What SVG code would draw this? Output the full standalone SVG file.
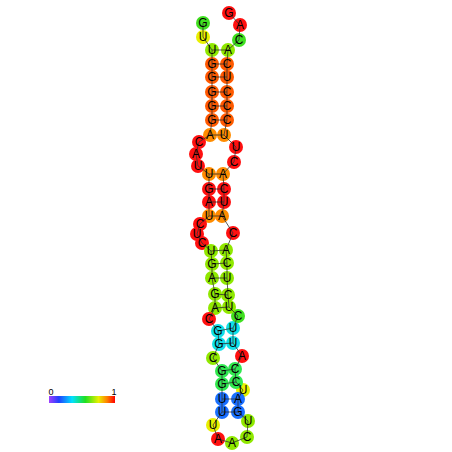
<svg xmlns="http://www.w3.org/2000/svg" width="452" height="452" viewBox="0 0 452 452">
<defs>
<linearGradient id="cb" x1="0" y1="0" x2="1" y2="0">
<stop offset="0" stop-color="#a040ff"/>
<stop offset="0.15" stop-color="#2040ff"/>
<stop offset="0.35" stop-color="#00e0ff"/>
<stop offset="0.55" stop-color="#20e020"/>
<stop offset="0.75" stop-color="#e8f000"/>
<stop offset="0.88" stop-color="#ff8000"/>
<stop offset="1" stop-color="#ff0000"/>
</linearGradient>
</defs>
<style>
.n circle{stroke:none}
.n text{font-family:"Liberation Sans",Arial,sans-serif;font-size:12px;fill:#000;text-anchor:middle;dominant-baseline:central}
#links line{stroke:#333;stroke-width:0.8}
.r{fill:#ff1010}.o{fill:#ff5a00}.oa{fill:#ff8c00}.yg{fill:#90e800}.g{fill:#40e020}.y{fill:#e8f000}.c{fill:#10e0e8}.gc{fill:#30e850}.b{fill:#1a70ff}
.lab{font-family:"Liberation Sans",Arial,sans-serif;font-size:9px;fill:#000;text-anchor:middle}
</style>
<rect width="452" height="452" fill="#fff"/>
<g id="circles">
<g class="n" id="n1"><circle class="g" cx="203" cy="23" r="7"/></g>
<g class="n" id="n2"><circle class="y" cx="203" cy="37" r="7"/></g>
<g class="n" id="n3"><circle class="yg" cx="212" cy="50" r="7"/></g>
<g class="n" id="n4"><circle class="o" cx="212" cy="64" r="7"/></g>
<g class="n" id="n5"><circle class="o" cx="212" cy="77" r="7"/></g>
<g class="n" id="n6"><circle class="o" cx="212" cy="92" r="7"/></g>
<g class="n" id="n7"><circle class="o" cx="212" cy="106" r="7"/></g>
<g class="n" id="n8"><circle class="o" cx="212" cy="120" r="7"/></g>
<g class="n" id="n9"><circle class="oa" cx="210" cy="135" r="7"/></g>
<g class="n" id="n10"><circle class="r" cx="199" cy="142" r="7"/></g>
<g class="n" id="n11"><circle class="r" cx="196" cy="154" r="7"/></g>
<g class="n" id="n12"><circle class="r" cx="198" cy="166" r="7"/></g>
<g class="n" id="n13"><circle class="oa" cx="209" cy="174" r="7"/></g>
<g class="n" id="n14"><circle class="r" cx="209" cy="189" r="7"/></g>
<g class="n" id="n15"><circle class="r" cx="209" cy="202" r="7"/></g>
<g class="n" id="n16"><circle class="oa" cx="209" cy="216" r="7"/></g>
<g class="n" id="n17"><circle class="r" cx="200" cy="224" r="7"/></g>
<g class="n" id="n18"><circle class="r" cx="197" cy="234" r="7"/></g>
<g class="n" id="n19"><circle class="r" cx="202" cy="243" r="7"/></g>
<g class="n" id="n20"><circle class="yg" cx="211" cy="251" r="7"/></g>
<g class="n" id="n21"><circle class="yg" cx="212" cy="264" r="7"/></g>
<g class="n" id="n22"><circle class="yg" cx="212" cy="278" r="7"/></g>
<g class="n" id="n23"><circle class="yg" cx="215" cy="294" r="7"/></g>
<g class="n" id="n24"><circle class="yg" cx="215" cy="308" r="7"/></g>
<g class="n" id="n25"><circle class="r" cx="209" cy="319" r="7"/></g>
<g class="n" id="n26"><circle class="c" cx="218" cy="331" r="7"/></g>
<g class="n" id="n27"><circle class="c" cx="219" cy="344" r="7"/></g>
<g class="n" id="n28"><circle class="yg" cx="213" cy="358" r="7"/></g>
<g class="n" id="n29"><circle class="gc" cx="222" cy="371" r="7"/></g>
<g class="n" id="n30"><circle class="gc" cx="222" cy="384" r="7"/></g>
<g class="n" id="n31"><circle class="b" cx="222" cy="399" r="7"/></g>
<g class="n" id="n32"><circle class="b" cx="222" cy="412" r="7"/></g>
<g class="n" id="n33"><circle class="y" cx="213" cy="425" r="7"/></g>
<g class="n" id="n34"><circle class="r" cx="218" cy="439" r="7"/></g>
<g class="n" id="n35"><circle class="yg" cx="232" cy="443" r="7"/></g>
<g class="n" id="n36"><circle class="yg" cx="247" cy="437" r="7"/></g>
<g class="n" id="n37"><circle class="yg" cx="248" cy="421" r="7"/></g>
<g class="n" id="n38"><circle class="b" cx="238" cy="412" r="7"/></g>
<g class="n" id="n39"><circle class="y" cx="243" cy="390" r="7"/></g>
<g class="n" id="n40"><circle class="b" cx="238" cy="399" r="7"/></g>
<g class="n" id="n41"><circle class="gc" cx="236" cy="382" r="7"/></g>
<g class="n" id="n42"><circle class="gc" cx="235" cy="369" r="7"/></g>
<g class="n" id="n43"><circle class="r" cx="242" cy="356" r="7"/></g>
<g class="n" id="n44"><circle class="c" cx="233" cy="343" r="7"/></g>
<g class="n" id="n45"><circle class="c" cx="233" cy="328" r="7"/></g>
<g class="n" id="n46"><circle class="g" cx="238" cy="316" r="7"/></g>
<g class="n" id="n47"><circle class="yg" cx="229" cy="307" r="7"/></g>
<g class="n" id="n48"><circle class="yg" cx="228" cy="295" r="7"/></g>
<g class="n" id="n49"><circle class="yg" cx="227" cy="278" r="7"/></g>
<g class="n" id="n50"><circle class="yg" cx="227" cy="263" r="7"/></g>
<g class="n" id="n51"><circle class="yg" cx="226" cy="250" r="7"/></g>
<g class="n" id="n52"><circle class="r" cx="233" cy="233" r="7"/></g>
<g class="n" id="n53"><circle class="oa" cx="222" cy="216" r="7"/></g>
<g class="n" id="n54"><circle class="r" cx="224" cy="202" r="7"/></g>
<g class="n" id="n55"><circle class="r" cx="224" cy="189" r="7"/></g>
<g class="n" id="n56"><circle class="oa" cx="223" cy="174" r="7"/></g>
<g class="n" id="n57"><circle class="r" cx="234" cy="162" r="7"/></g>
<g class="n" id="n58"><circle class="r" cx="236" cy="147" r="7"/></g>
<g class="n" id="n59"><circle class="oa" cx="224" cy="135" r="7"/></g>
<g class="n" id="n60"><circle class="o" cx="227" cy="120" r="7"/></g>
<g class="n" id="n61"><circle class="o" cx="227" cy="106" r="7"/></g>
<g class="n" id="n62"><circle class="o" cx="227" cy="92" r="7"/></g>
<g class="n" id="n63"><circle class="o" cx="227" cy="77" r="7"/></g>
<g class="n" id="n64"><circle class="o" cx="227" cy="64" r="7"/></g>
<g class="n" id="n65"><circle class="yg" cx="228" cy="50" r="7"/></g>
<g class="n" id="n66"><circle class="g" cx="239" cy="40" r="7"/></g>
<g class="n" id="n67"><circle class="r" cx="240" cy="25" r="7"/></g>
<g class="n" id="n68"><circle class="r" cx="229" cy="13" r="7"/></g>
</g>
<g id="links">
<polyline fill="none" stroke="#333" stroke-width="0.8" points="203,23 203,37 212,50 212,64 212,77 212,92 212,106 212,120 210,135 199,142 196,154 198,166 209,174 209,189 209,202 209,216 200,224 197,234 202,243 211,251 212,264 212,278 215,294 215,308 209,319 218,331 219,344 213,358 222,371 222,384 222,399 222,412 213,425 218,439 232,443 247,437 248,421 238,412 238,399 243,390 236,382 235,369 242,356 233,343 233,328 238,316 229,307 228,295 227,278 227,263 226,250 233,233 222,216 224,202 224,189 223,174 234,162 236,147 224,135 227,120 227,106 227,92 227,77 227,64 228,50 239,40 240,25 229,13"/>
<line x1="212" y1="50" x2="228" y2="50"/>
<line x1="212" y1="64" x2="227" y2="64"/>
<line x1="212" y1="77" x2="227" y2="77"/>
<line x1="212" y1="92" x2="227" y2="92"/>
<line x1="212" y1="106" x2="227" y2="106"/>
<line x1="212" y1="120" x2="227" y2="120"/>
<line x1="210" y1="135" x2="224" y2="135"/>
<line x1="209" y1="174" x2="223" y2="174"/>
<line x1="209" y1="189" x2="224" y2="189"/>
<line x1="209" y1="202" x2="224" y2="202"/>
<line x1="209" y1="216" x2="222" y2="216"/>
<line x1="211" y1="251" x2="226" y2="250"/>
<line x1="212" y1="264" x2="227" y2="263"/>
<line x1="212" y1="278" x2="227" y2="278"/>
<line x1="215" y1="294" x2="228" y2="295"/>
<line x1="215" y1="308" x2="229" y2="307"/>
<line x1="218" y1="331" x2="233" y2="328"/>
<line x1="219" y1="344" x2="233" y2="343"/>
<line x1="222" y1="371" x2="235" y2="369"/>
<line x1="222" y1="384" x2="236" y2="382"/>
<line x1="222" y1="399" x2="238" y2="399"/>
<line x1="222" y1="412" x2="238" y2="412"/>
</g>
<g id="labels" class="n">
<text x="203" y="23">G</text><text x="203" y="37">U</text><text x="212" y="50">U</text><text x="212" y="64">G</text><text x="212" y="77">G</text><text x="212" y="92">G</text><text x="212" y="106">G</text><text x="212" y="120">G</text><text x="210" y="135">A</text><text x="199" y="142">C</text><text x="196" y="154">A</text><text x="198" y="166">U</text><text x="209" y="174">U</text><text x="209" y="189">G</text><text x="209" y="202">A</text><text x="209" y="216">U</text><text x="200" y="224">C</text><text x="197" y="234">U</text><text x="202" y="243">C</text><text x="211" y="251">U</text><text x="212" y="264">G</text><text x="212" y="278">A</text><text x="215" y="294">G</text><text x="215" y="308">A</text><text x="209" y="319">C</text><text x="218" y="331">G</text><text x="219" y="344">G</text><text x="213" y="358">C</text><text x="222" y="371">G</text><text x="222" y="384">G</text><text x="222" y="399">U</text><text x="222" y="412">U</text><text x="213" y="425">U</text><text x="218" y="439">A</text><text x="232" y="443">A</text><text x="247" y="437">C</text><text x="248" y="421">U</text><text x="238" y="412">G</text><text x="243" y="390">U</text><text x="238" y="399">A</text><text x="236" y="382">C</text><text x="235" y="369">C</text><text x="242" y="356">A</text><text x="233" y="343">U</text><text x="233" y="328">U</text><text x="238" y="316">C</text><text x="229" y="307">U</text><text x="228" y="295">C</text><text x="227" y="278">U</text><text x="227" y="263">C</text><text x="226" y="250">A</text><text x="233" y="233">C</text><text x="222" y="216">A</text><text x="224" y="202">U</text><text x="224" y="189">C</text><text x="223" y="174">A</text><text x="234" y="162">C</text><text x="236" y="147">U</text><text x="224" y="135">U</text><text x="227" y="120">C</text><text x="227" y="106">C</text><text x="227" y="92">C</text><text x="227" y="77">U</text><text x="227" y="64">C</text><text x="228" y="50">A</text><text x="239" y="40">C</text><text x="240" y="25">A</text><text x="229" y="13">G</text>
</g>
<g id="colorbar">
<rect x="49" y="396" width="66" height="7" fill="url(#cb)"/>
<text class="lab" x="51" y="395">0</text>
<text class="lab" x="114" y="395">1</text>
</g>
</svg>
